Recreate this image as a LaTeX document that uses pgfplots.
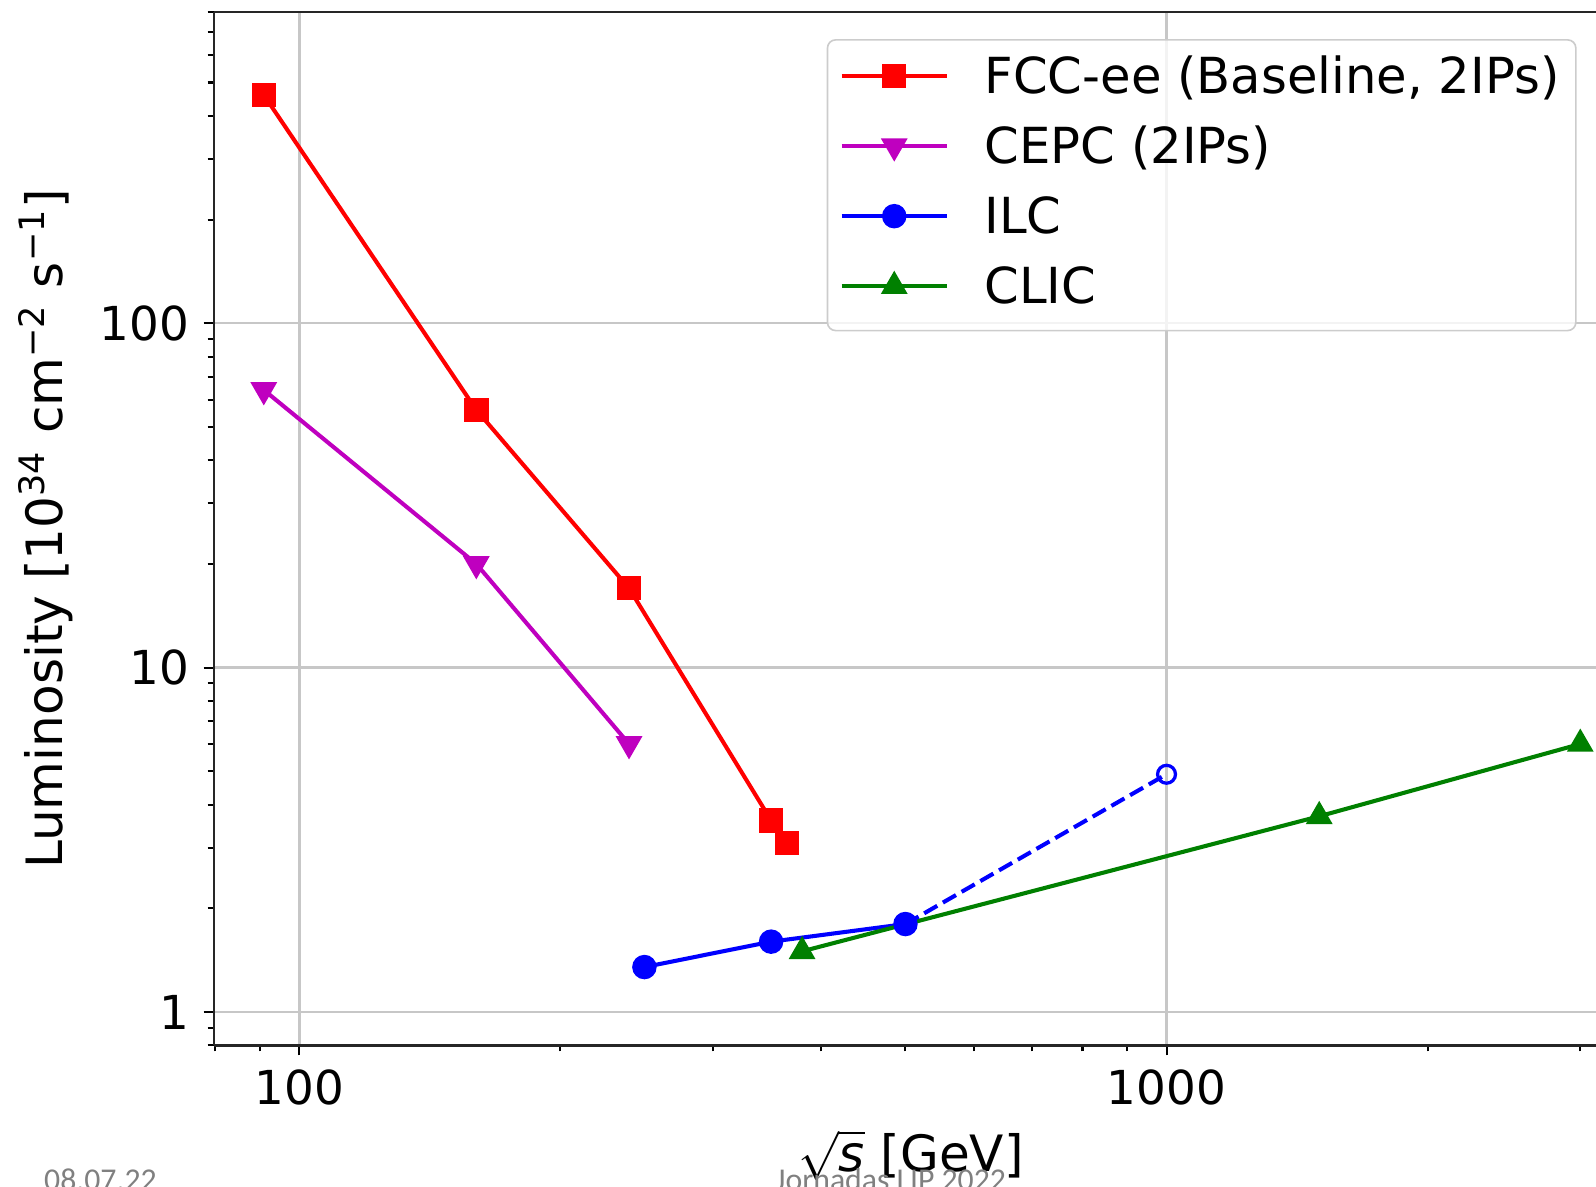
\documentclass[border=0pt]{standalone}
\usepackage{pgfplots}
\pgfplotsset{compat=1.18}
\usepackage{fontspec}
\setmainfont{DejaVu Sans}
\newfontfamily\footfont{Carlito}
\definecolor{mplred}{rgb}{1,0,0}
\definecolor{mplmag}{rgb}{0.75,0,0.75}
\definecolor{mplblue}{rgb}{0,0,1}
\definecolor{mplgreen}{rgb}{0,0.5,0}
\begin{document}
\begin{tikzpicture}
\begin{axis}[
  scale only axis, width=339.5pt, height=253.75pt,
  xmode=log, ymode=log,
  xmin=79.7, xmax=3128, ymin=0.8, ymax=800,
  axis y line*=left,
  tick pos=left, tick align=outside,
  major tick length=2.5pt, minor tick length=1.5pt,
  tick style={black, line width=0.5pt},
  axis line style={black!85, line width=0.6pt},
  xtick={100,1000}, xticklabels={100,1000},
  ytick={1,10,100}, yticklabels={1,10,100},
  minor xtick={80,90,200,300,400,500,600,700,800,900,2000,3000},
  minor ytick={0.8,0.9,2,3,4,5,6,7,8,9,20,30,40,50,60,70,80,90,200,300,400,500,600,700,800},
  xmajorgrids, ymajorgrids,
  major grid style={black!22, line width=0.6pt},
  ticklabel style={font=\fontsize{11.5}{13}\selectfont},
  xlabel={$\sqrt{\textit{s}}$ [GeV]},
  ylabel={Luminosity [10\textsuperscript{34} cm\textsuperscript{−2} s\textsuperscript{−1}]},
  label style={font=\fontsize{12.3}{14}\selectfont},
  xlabel style={at={(axis description cs:0.5044,-0.1064)}, anchor=center},
  ylabel style={at={(axis description cs:-0.1215,0.5)}, anchor=center},
  legend style={at={(0.986,0.974)}, anchor=north east, draw=black!20, rounded corners=2pt,
    fill=white, fill opacity=0.8, text opacity=1, font=\fontsize{12.2}{14}\selectfont,
    inner xsep=3pt, inner ysep=3.4pt, row sep=4.2pt, column sep=7.8pt,
    nodes={inner sep=1pt, text height=8.7pt, text depth=2.3pt}},
  legend cell align=left,
  legend image code/.code={\draw[mark repeat=2,mark phase=2] plot coordinates {(0pt,1pt) (12.9pt,1pt) (25.8pt,1pt)};},
  legend image post style={sharp corners, fill opacity=1, draw opacity=1},
]
\addplot[mplred, line width=1pt, mark=square*, mark size=2.5pt] coordinates {(91,460) (160,56) (240,17) (350,3.6) (365,3.1)};
\addlegendentry{FCC-ee (Baseline, 2IPs)}
\addplot[mplmag, line width=1pt, mark=triangle*, mark size=2.8pt, mark options={rotate=180}] coordinates {(91,64) (160,20) (240,6)};
\addlegendentry{CEPC (2IPs)}
\addplot[mplblue, line width=1pt, mark=*, mark size=2.5pt] coordinates {(250,1.35) (350,1.6) (500,1.8)};
\addlegendentry{ILC}
\addplot[mplgreen, line width=1pt, mark=triangle*, mark size=2.8pt] coordinates {(380,1.5) (1500,3.7) (3000,6.0)};
\addlegendentry{CLIC}
\addplot[mplblue, line width=1pt, dash pattern=on 3.7pt off 1.6pt, forget plot, mark=o, mark size=2.2pt, mark options={solid, line width=0.8pt, fill=none}, mark indices={2}] coordinates {(500,1.8) (1000,4.9)};
\end{axis}
\node[anchor=base west, font=\footfont\fontsize{7.8}{9}\selectfont, text=black!50, inner sep=0pt] at (-41.85pt,-35.75pt) {08.07.22};
\node[anchor=base west, font=\footfont\fontsize{7.8}{9}\selectfont, text=black!50, inner sep=0pt] at (137.75pt,-35.75pt) {Jornadas LIP 2022};
\pgfresetboundingbox
\useasboundingbox (-52.5pt,-34.75pt) rectangle (339.5pt,256.75pt);
\end{tikzpicture}
\end{document}
